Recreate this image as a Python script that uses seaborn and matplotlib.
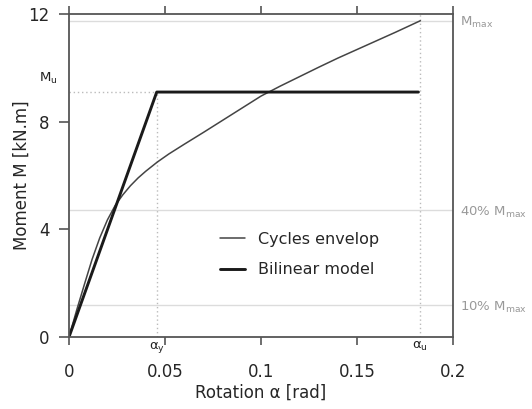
import numpy as np
import pandas as pd
import matplotlib
matplotlib.use("Agg")
import matplotlib.pyplot as plt
import seaborn as sns

# ---- data ----
env_rot = [0, 0.004, 0.008, 0.012, 0.016, 0.020, 0.024, 0.028, 0.032, 0.036, 0.040, 0.046,
           0.052, 0.060, 0.070, 0.080, 0.090, 0.100, 0.110, 0.120, 0.130, 0.140, 0.150,
           0.160, 0.170, 0.183]
env_mom = [0, 1.00, 1.95, 2.88, 3.68, 4.35, 4.88, 5.28, 5.62, 5.91, 6.16, 6.50,
           6.80, 7.16, 7.60, 8.05, 8.50, 8.95, 9.32, 9.67, 10.02, 10.36, 10.68,
           11.00, 11.32, 11.75]
bil_rot = [0, 0.0457, 0.182]
bil_mom = [0, 9.10, 9.10]
alpha_y = 0.0457
alpha_u = 0.183
M_u = 9.10
M_max = 11.75
frac_labels = ["M$_{\\mathrm{max}}$", "40% M$_{\\mathrm{max}}$", "10% M$_{\\mathrm{max}}$"]
frac_values = [1.0, 0.4, 0.1]
xticks = [0, 0.05, 0.1, 0.15, 0.2]
xtick_labels = ["0", "0.05", "0.1", "0.15", "0.2"]
yticks = [0, 4, 8, 12]

sns.set_style("ticks")
plt.rcParams['font.family'] = ['DejaVu Sans']

fig = plt.figure(figsize=(5.32, 4.09), dpi=100)
ax = fig.add_axes([0.1297, 0.176, 0.7218, 0.7898])

env_df = pd.DataFrame({"rot": env_rot, "mom": env_mom})
bil_df = pd.DataFrame({"rot": bil_rot, "mom": bil_mom})

# reference lines
for f in frac_values:
    ax.axhline(f * M_max, color="#dcdcdc", lw=1.0, zorder=1)
ax.plot([0, alpha_y], [M_u, M_u], color="#bbbbbb", lw=1.0, ls=(0, (1, 2)), zorder=1)
ax.plot([alpha_y, alpha_y], [0, M_u], color="#bbbbbb", lw=1.0, ls=(0, (1, 2)), zorder=1)
ax.plot([alpha_u, alpha_u], [0, 12], color="#bbbbbb", lw=1.0, ls=(0, (1, 2)), zorder=1)

sns.lineplot(data=env_df, x="rot", y="mom", ax=ax, color="#444444", lw=1.1,
             label="Cycles envelop", sort=False, estimator=None)
sns.lineplot(data=bil_df, x="rot", y="mom", ax=ax, color="#1a1a1a", lw=2.1,
             label="Bilinear model", sort=False, estimator=None)

ax.set_xlim(0, 0.2)
ax.set_ylim(0, 12)

for s in ax.spines.values():
    s.set_color("#555555")
    s.set_linewidth(1.3)

ax.set_xticks(xticks)
ax.set_xticklabels(xtick_labels)
ax.set_yticks(yticks)
ax.tick_params(axis="x", which="major", direction="out", length=6, width=1.2,
               color="#555555", labelsize=12, pad=13, top=True, labeltop=False)
ax.tick_params(axis="y", which="major", direction="out", length=7, width=1.2,
               color="#555555", labelsize=12, pad=7, right=True, labelright=False)

# minor ticks for alpha labels
ax.set_xticks([alpha_y, alpha_u], minor=True)
ax.set_xticklabels(["α$_\\mathrm{y}$", "α$_\\mathrm{u}$"], minor=True)
ax.tick_params(axis="x", which="minor", length=0, labelsize=9.5, pad=2, top=False,
               labelcolor="#222222")

# right side labels
ax2 = ax.twinx()
ax2.set_ylim(0, 12)
ax2.set_yticks([f * M_max for f in frac_values])
ax2.set_yticklabels(frac_labels)
ax2.tick_params(axis="y", length=0, labelsize=9.5, labelcolor="#999999", pad=5)
for s in ax2.spines.values():
    s.set_visible(False)

ax.annotate("M$_\\mathrm{u}$", xy=(0, M_u), xycoords="data", xytext=(-15, 10),
            textcoords="offset points", ha="center", va="center", fontsize=9.5, color="#222222")

ax.set_xlabel("Rotation α [rad]", fontsize=12, labelpad=2)
ax.set_ylabel("Moment M [kN.m]", fontsize=12, labelpad=-2)

leg = ax.legend(loc="center", bbox_to_anchor=(0.60, 0.255), frameon=False, fontsize=11.5,
                handlelength=1.55, labelspacing=0.95)

fig.savefig("out.png", dpi=100)
